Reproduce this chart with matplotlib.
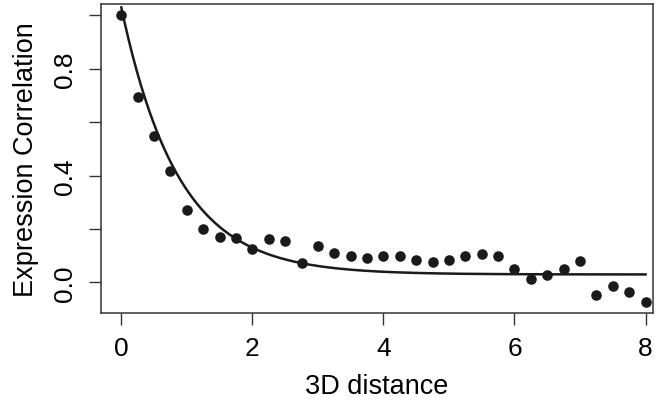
import numpy as np
import matplotlib
matplotlib.use('Agg')
import matplotlib.pyplot as plt

# data
dist = np.arange(0, 8.01, 0.25)
corr = [1.00, 0.694, 0.55, 0.418, 0.272, 0.20, 0.169, 0.166, 0.125, 0.162, 0.157,
        0.072, 0.135, 0.11, 0.10, 0.09, 0.10, 0.10, 0.085, 0.075, 0.085, 0.10,
        0.106, 0.10, 0.05, 0.0125, 0.029, 0.05, 0.079, -0.048, -0.015, -0.035, -0.073]

# fitted exponential decay a*exp(-b*x)+c
fit_a = 1.0
fit_b = 1.15
fit_c = 0.03

yticks = [0.0, 0.2, 0.4, 0.6, 0.8, 1.0]
ytick_labels = ['0.0', '', '0.4', '', '0.8', '']
xticks = [0, 2, 4, 6, 8]

plt.rcParams['font.family'] = ['Liberation Sans', 'DejaVu Sans']

fig = plt.figure(figsize=(6.6, 4.1), dpi=100)
ax = fig.add_axes([0.153, 0.235, 0.836, 0.753])

xx = np.linspace(0, 8, 400)
ax.plot(xx, fit_a*np.exp(-fit_b*xx)+fit_c, color='#1a1a1a', lw=1.8, zorder=2)
ax.scatter(dist, corr, s=58, color='#1a1a1a', zorder=3, linewidths=0)

ax.set_xlim(-0.31, 8.11)
ax.set_ylim(-0.113, 1.043)

ax.set_xticks(xticks)
ax.set_xticklabels([str(t) for t in xticks])
ax.set_yticks(yticks)
ax.set_yticklabels(ytick_labels, rotation=90, va='center')

for s in ax.spines.values():
    s.set_linewidth(1.1)
    s.set_color('#333333')

ax.tick_params(axis='both', length=8.5, width=1.0, color='#333333', labelsize=19)
ax.tick_params(axis='x', pad=8)
ax.tick_params(axis='y', pad=9)

ax.set_xlabel('3D distance', fontsize=19.5, labelpad=10)
ax.set_ylabel('Expression Correlation', fontsize=19.5, labelpad=10)

fig.savefig('out.png', dpi=100)
